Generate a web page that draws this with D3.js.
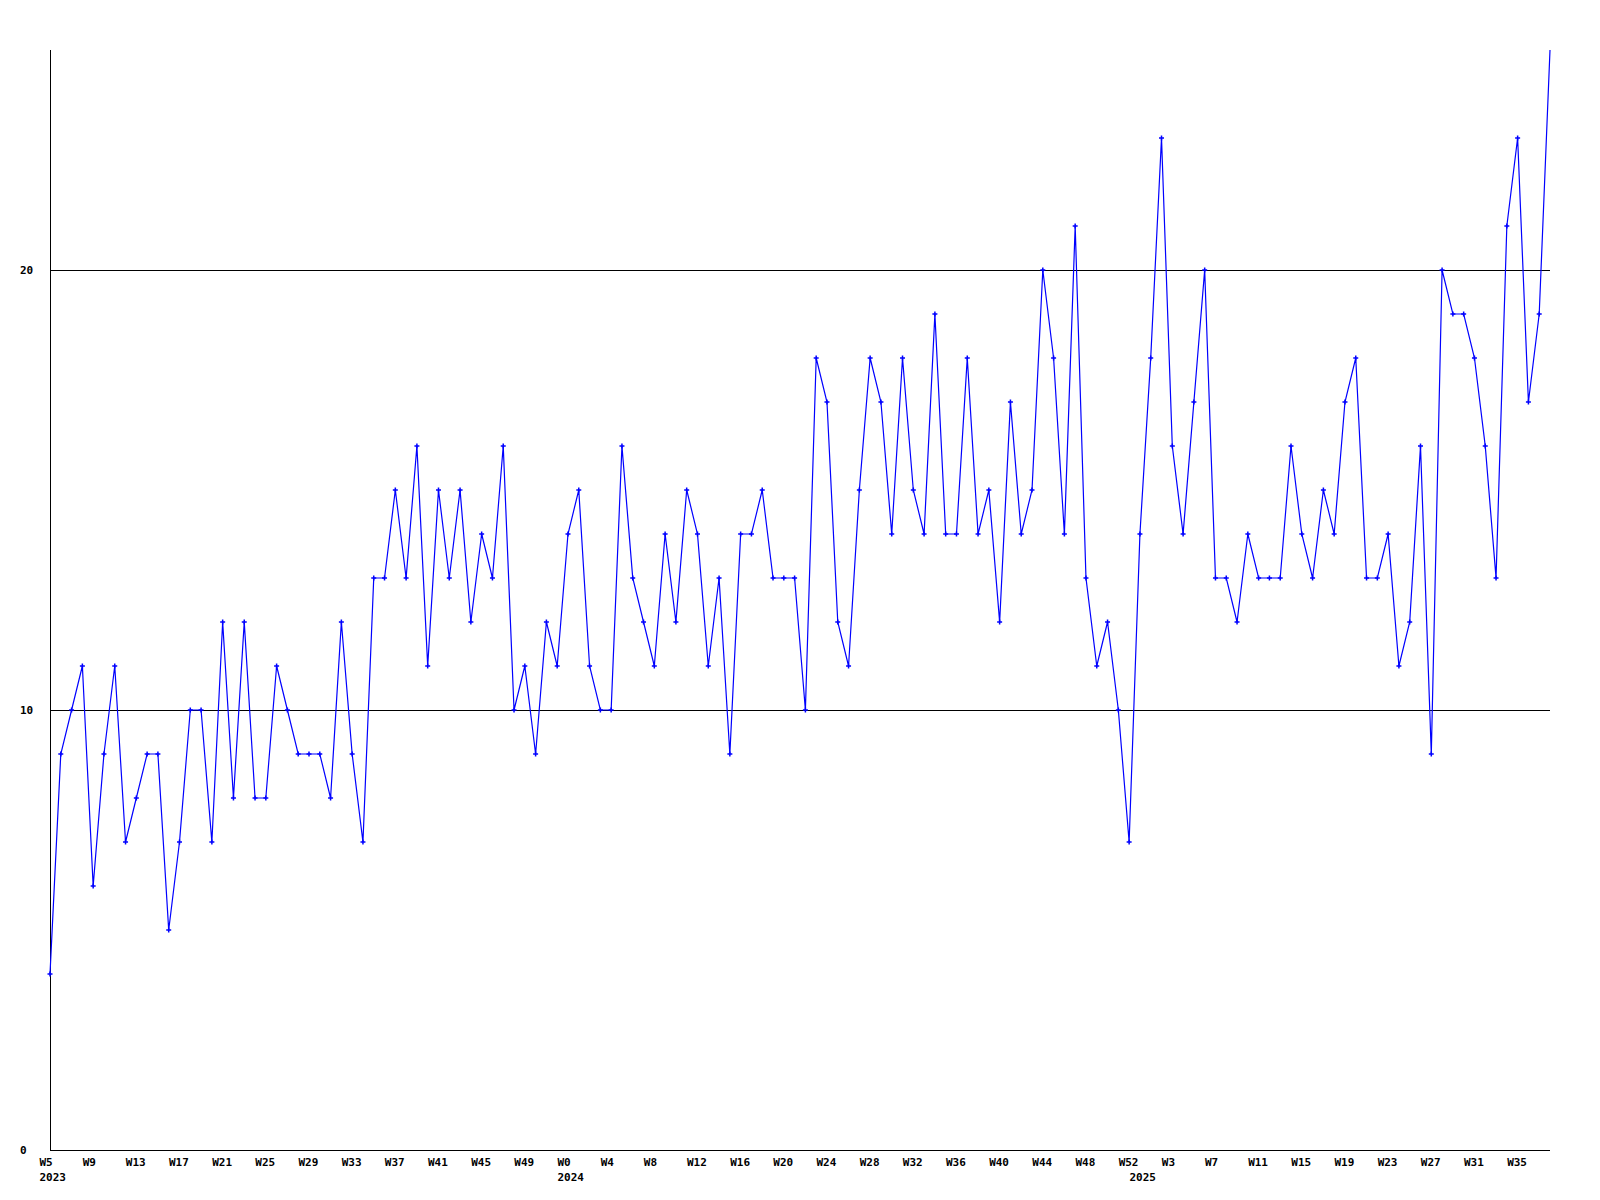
<!DOCTYPE html>
<html>
<head>
<meta charset="utf-8">
<script src="https://cdn.jsdelivr.net/npm/d3@7"></script>
<style>
  html, body { margin: 0; padding: 0; background: #ffffff; }
  svg { display: block; }
  text { font-family: "DejaVu Sans Mono", "Liberation Mono", monospace; font-weight: bold; font-size: 11px; fill: #000; }
</style>
</head>
<body>
<svg id="chart" width="1600" height="1200"></svg>
<script>
// ---- data ----
const years = [2023, 2024, 2025];
const weeks2023 = d3.range(5, 53);   // W5 .. W52
const weeks2024 = d3.range(0, 53);   // W0 .. W52
const weeks2025 = d3.range(0, 39);   // W0 .. W38
const values2023 = [4, 9, 10, 11, 6, 9, 11, 7, 8, 9, 9, 5, 7, 10, 10, 7, 12, 8, 12, 8,
                    8, 11, 10, 9, 9, 9, 8, 12, 9, 7, 13, 13, 15, 13, 16, 11, 15, 13, 15, 12,
                    14, 13, 16, 10, 11, 9, 12, 11];
const values2024 = [14, 15, 11, 10, 10, 16, 13, 12, 11, 14, 12, 15, 14, 11, 13, 9, 14, 14, 15, 13,
                    13, 13, 10, 18, 17, 12, 11, 15, 18, 17, 14, 18, 15, 14, 19, 14, 14, 18, 14, 15,
                    12, 17, 14, 15, 20, 18, 14, 21, 13, 11, 12, 10, 7];
const values2025 = [14, 18, 23, 16, 14, 17, 20, 13, 13, 12, 14, 13, 13, 13, 16, 14, 13, 15, 14, 17,
                    18, 13, 13, 14, 11, 12, 16, 9, 20, 19, 19, 18, 16, 13, 21, 23, 17, 19, 25];
const yTicks = [0, 10, 20];
const yMax = 25;
const labelEvery = 4;

// ---- build table ----
const weekSets = [weeks2023, weeks2024, weeks2025];
const valueSets = [values2023, values2024, values2025];
const data = [];
years.forEach((yr, yi) => {
  weekSets[yi].forEach((w, wi) => {
    data.push({ year: yr, week: w, label: "W" + w, value: valueSets[yi][wi], firstOfYear: wi === 0 });
  });
});
data.forEach((d, i) => d.i = i);

// ---- layout ----
const svg = d3.select("#chart");
const mLeft = 50, mRight = 1550, mTop = 50, mBottom = 1150;

const x = d3.scaleLinear().domain([0, data.length - 1]).range([mLeft, mRight]);
const y = d3.scaleLinear().domain([0, yMax]).range([mBottom, mTop]);

// horizontal grid lines (at 10, 20) and baseline
svg.append("g").selectAll("line").data(yTicks).join("line")
  .attr("x1", mLeft).attr("x2", mRight)
  .attr("y1", d => Math.round(y(d)) + 0.5).attr("y2", d => Math.round(y(d)) + 0.5)
  .attr("stroke", "#000").attr("stroke-width", 1).attr("shape-rendering", "crispEdges");

// y axis line
svg.append("line")
  .attr("x1", mLeft + 0.5).attr("x2", mLeft + 0.5)
  .attr("y1", mTop).attr("y2", mBottom + 0.5)
  .attr("stroke", "#000").attr("stroke-width", 1).attr("shape-rendering", "crispEdges");

// y labels
svg.append("g").selectAll("text").data(yTicks).join("text")
  .attr("x", 20).attr("y", d => y(d) + 4)
  .text(d => d);

// x week labels
const tickData = data.filter(d => d.i % labelEvery === 0);
svg.append("g").selectAll("text").data(tickData).join("text")
  .attr("x", d => x(d.i) - 10.5).attr("y", 1166)
  .text(d => d.label);

// year labels
svg.append("g").selectAll("text").data(data.filter(d => d.firstOfYear)).join("text")
  .attr("x", d => x(d.i) - 10.5).attr("y", 1181)
  .text(d => d.year);

// data line
const line = d3.line().x(d => x(d.i)).y(d => y(d.value));
svg.append("path").datum(data)
  .attr("d", line)
  .attr("fill", "none").attr("stroke", "#0000ff").attr("stroke-width", 1.2);

// markers (small crosses); points at the top edge are clipped in the original
svg.append("g").selectAll("path").data(data.filter(d => d.value < yMax)).join("path")
  .attr("transform", d => `translate(${x(d.i)},${y(d.value)})`)
  .attr("d", "M-2.5,0H2.5M0,-2.5V2.5")
  .attr("stroke", "#0000ff").attr("stroke-width", 1.5).attr("fill", "none");
</script>
</body>
</html>
